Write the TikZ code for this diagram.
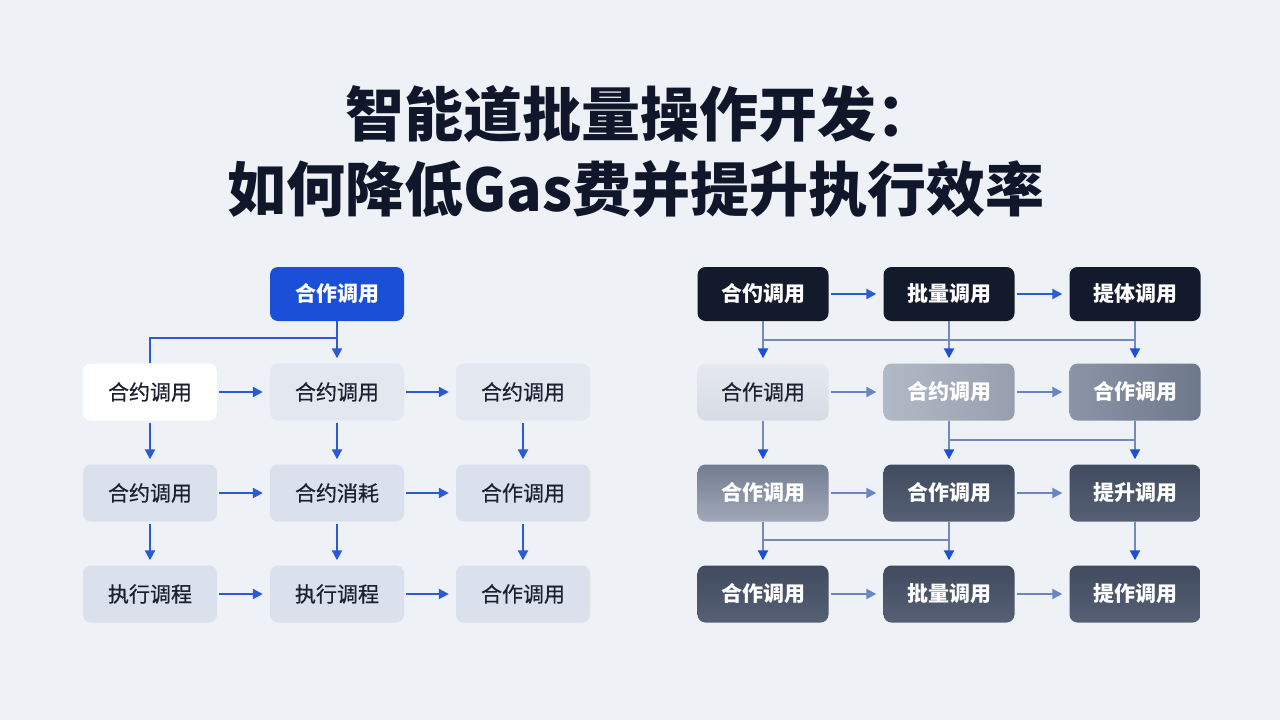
\documentclass[tikz,border=0pt]{standalone}
\usepackage{fontspec}
\newfontfamily\cjk{Noto Sans CJK SC}
\newfontfamily\cjkmed[FakeBold=0.6]{Noto Sans CJK SC}
\usetikzlibrary{arrows.meta}
\definecolor{bg}{HTML}{EEF1F5}
\definecolor{ink}{HTML}{10172A}
\definecolor{txt}{HTML}{1B2130}
\definecolor{blueA}{HTML}{1A4FD8}
\definecolor{arrB}{HTML}{2A5AD6}
\definecolor{mut}{HTML}{7489B8}
\definecolor{mutarr}{HTML}{6A86C2}
\definecolor{lgA}{HTML}{E3E8F0}
\definecolor{lgB}{HTML}{DAE1ED}
\definecolor{navy}{HTML}{121A2C}
\definecolor{rl1}{HTML}{E6E9EF}
\definecolor{rl2}{HTML}{D6DBE4}
\definecolor{g1a}{HTML}{B2B9C6}
\definecolor{g1b}{HTML}{979FAF}
\definecolor{g2a}{HTML}{6E788C}
\definecolor{g2b}{HTML}{8C95A6}
\definecolor{g3a}{HTML}{737D91}
\definecolor{g3b}{HTML}{A1A9B8}
\definecolor{dka}{HTML}{414B60}
\definecolor{dkc}{HTML}{566074}
\tikzset{
  box/.style={rounded corners=8pt, minimum width=134pt, minimum height=57pt, inner sep=0pt,
    font=\cjkmed\fontsize{21}{25}\selectfont, text=txt},
  lbox/.style={box, fill=lgB},
  rbox/.style={box, minimum width=131pt, text=white, font=\cjk\bfseries\fontsize{21}{25}\selectfont},
  dbox/.style={rbox, top color=dka, bottom color=dkc},
  arr/.style={draw=arrB, line width=2.2pt, -{Triangle[length=10pt,width=10pt]}},
  harr/.style={arr, shorten <=2pt, shorten >=7pt},
  varr/.style={arr, shorten <=2pt, shorten >=5pt},
  mline/.style={draw=mut, line width=2pt},
  marr/.style={draw=mut, line width=2pt, -{Triangle[length=10pt,width=10pt,color=blueA]}, shorten >=5pt},
  mharr/.style={draw=mutarr, line width=2pt, -{Triangle[length=10pt,width=10pt,color=mutarr]}, shorten <=2pt, shorten >=7pt},
  ttl/.style={text=ink, font=\cjk\bfseries\fontsize{59}{62}\selectfont},
}
\begin{document}
\begin{tikzpicture}[x=1pt,y=-1pt]
\useasboundingbox (0,0) rectangle (1280,720);
\fill[bg] (0,0) rectangle (1280,720);
% title
\node[ttl] (t1) at (640,114) {智能道批量操作开发：};
\node[ttl] (t2) at (636,189) {如何降低Gas费并提升执行效率};

% ---------- left grid ----------
\node[box, fill=blueA, text=white, font=\cjk\bfseries\fontsize{21}{25}\selectfont, minimum height=54pt] (L0) at (337,294) {合作调用};
\node[box, fill=white] (L10) at (150,392) {合约调用};
\node[box, fill=lgA] (L11) at (337,392) {合约调用};
\node[box, fill=lgA] (L12) at (523,392) {合约调用};
\node[lbox] (L20) at (150,493) {合约调用};
\node[lbox] (L21) at (337,493) {合约消耗};
\node[lbox] (L22) at (523,493) {合作调用};
\node[lbox] (L30) at (150,594) {执行调程};
\node[lbox] (L31) at (337,594) {执行调程};
\node[lbox] (L32) at (523,594) {合作调用};

\coordinate (LJ) at (337,338);
\draw[arr, shorten >=5pt] (L0) -- (L11);
\draw[draw=arrB, line width=2.2pt] (L10.north) |- (LJ);
\foreach \a/\b in {L10/L11, L11/L12, L20/L21, L21/L22, L30/L31, L31/L32}
  \draw[harr] (\a.east) -- (\b.west);
\foreach \a/\b in {L10/L20, L11/L21, L12/L22, L20/L30, L21/L31, L22/L32}
  \draw[varr] (\a.south) -- (\b.north);

% ---------- right grid ----------
\node[rbox, fill=navy, minimum height=54pt] (R00) at (763,294) {合仢调用};
\node[rbox, fill=navy, minimum height=54pt] (R01) at (949,294) {批量调用};
\node[rbox, fill=navy, minimum height=54pt] (R02) at (1135,294) {提体调用};
\node[rbox, top color=rl1, bottom color=rl2, text=txt, font=\cjkmed\fontsize{21}{25}\selectfont] (R10) at (763,392) {合作调用};
\node[rbox, left color=g1a, right color=g1b] (R11) at (949,392) {合约调用};
\node[rbox, left color=g2b, right color=g2a] (R12) at (1135,392) {合作调用};
\node[rbox, top color=g3a, bottom color=g3b] (R20) at (763,493) {合作调用};
\node[dbox] (R21) at (949,493) {合作调用};
\node[dbox] (R22) at (1135,493) {提升调用};
\node[dbox] (R30) at (763,594) {合作调用};
\node[dbox] (R31) at (949,594) {批量调用};
\node[dbox] (R32) at (1135,594) {提作调用};

% row 0 horizontal
\draw[harr] (R00.east) -- (R01.west);
\draw[harr] (R01.east) -- (R02.west);
% row 0 -> row 1
\coordinate (RJ1a) at (763,340);
\coordinate (RJ1b) at (1135,340);
\draw[mline] (RJ1a) -- (RJ1b);
\draw[marr] (R00.south) -- (R10.north);
\draw[marr] (R01.south) -- (R11.north);
\draw[marr] (R02.south) -- (R12.north);
% row 1 horizontal
\draw[mharr] (R10.east) -- (R11.west);
\draw[mharr] (R11.east) -- (R12.west);
% row 1 -> row 2
\coordinate (RJ2a) at (949,440);
\coordinate (RJ2b) at (1135,440);
\draw[mline] (RJ2a) -- (RJ2b);
\draw[marr] (R10.south) -- (R20.north);
\draw[marr] (R11.south) -- (R21.north);
\draw[marr] (R12.south) -- (R22.north);
% row 2 horizontal
\draw[mharr] (R20.east) -- (R21.west);
\draw[mharr] (R21.east) -- (R22.west);
% row 2 -> row 3
\coordinate (RJ3a) at (763,540);
\coordinate (RJ3b) at (949,540);
\draw[mline] (RJ3a) -- (RJ3b);
\draw[marr] (R20.south) -- (R30.north);
\draw[marr] (R21.south) -- (R31.north);
\draw[marr] (R22.south) -- (R32.north);
% row 3 horizontal
\draw[mharr] (R30.east) -- (R31.west);
\draw[mharr] (R31.east) -- (R32.west);
\end{tikzpicture}
\end{document}
